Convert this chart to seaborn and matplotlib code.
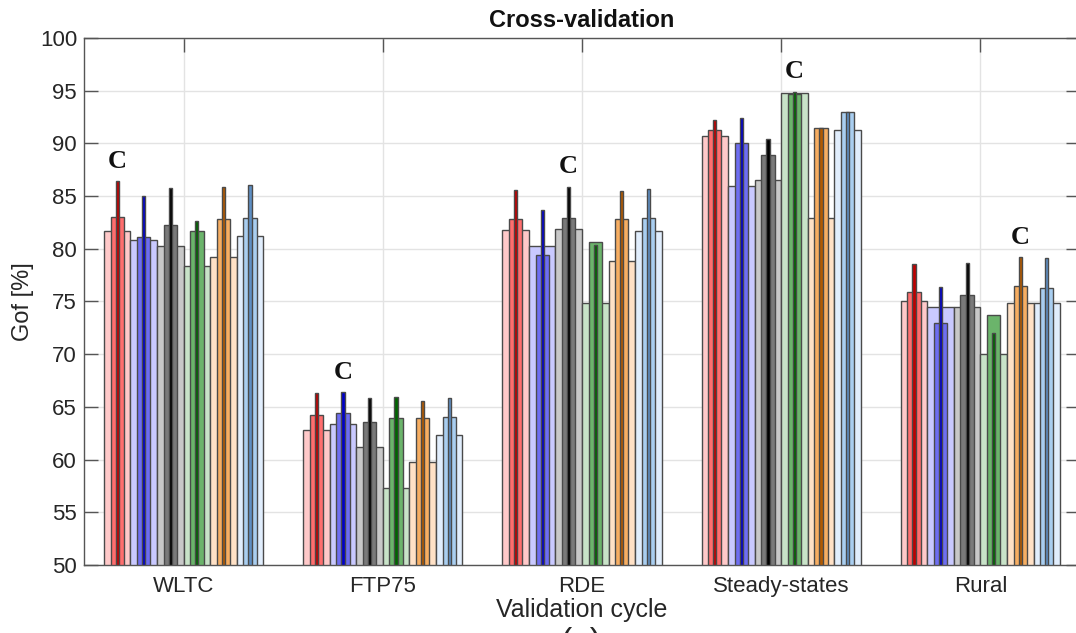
import matplotlib
matplotlib.use("Agg")
import matplotlib.pyplot as plt
import seaborn as sns
import pandas as pd

cycles = ["WLTC", "FTP75", "RDE", "Steady-states", "Rural"]
models = ["Model 1", "Model 2", "Model 3", "Model 4", "Model 5", "Model 6"]

# wide (light) bars
wide_red = [81.7, 62.8, 81.8, 90.7, 75.0]
wide_blue = [80.8, 63.4, 80.3, 86.0, 74.5]
wide_gray = [80.3, 61.2, 81.9, 86.5, 74.5]
wide_green = [78.4, 57.3, 74.9, 94.8, 70.0]
wide_orange = [79.2, 59.8, 78.8, 82.9, 74.9]
wide_lblue = [81.2, 62.3, 81.7, 91.3, 74.9]

# medium bars
mid_red = [83.0, 64.2, 82.8, 91.3, 75.9]
mid_blue = [81.1, 64.4, 79.4, 90.0, 73.0]
mid_gray = [82.3, 63.6, 82.9, 88.9, 75.6]
mid_green = [81.7, 63.9, 80.6, 94.7, 73.7]
mid_orange = [82.8, 63.9, 82.8, 91.5, 76.5]
mid_lblue = [82.9, 64.0, 82.9, 93.0, 76.3]

# thin bars
thin_red = [86.4, 66.3, 85.6, 92.2, 78.6]
thin_blue = [85.0, 66.4, 83.7, 92.4, 76.4]
thin_gray = [85.8, 65.8, 85.9, 90.4, 78.7]
thin_green = [82.6, 65.9, 80.4, 94.9, 72.0]
thin_orange = [85.9, 65.6, 85.5, 91.5, 79.2]
thin_lblue = [86.1, 65.8, 85.7, 93.0, 79.1]

# best model index per cycle (marked with "C")
best_model = [0, 1, 2, 3, 4]

wide = [wide_red, wide_blue, wide_gray, wide_green, wide_orange, wide_lblue]
mid = [mid_red, mid_blue, mid_gray, mid_green, mid_orange, mid_lblue]
thin = [thin_red, thin_blue, thin_gray, thin_green, thin_orange, thin_lblue]

rows = []
for m, name in enumerate(models):
    for c, cyc in enumerate(cycles):
        rows.append({"cycle": cyc, "model": name,
                     "wide": wide[m][c], "mid": mid[m][c], "thin": thin[m][c]})
df = pd.DataFrame(rows)

pal_wide = ["#FFC9C9", "#C9C9FF", "#C8C8C8", "#C8E3C8", "#FFE1C6", "#E1EEFD"]
pal_mid = ["#FF6E6E", "#6E6EF2", "#7A7A7A", "#6BB46B", "#F7AE62", "#A9CEF0"]
pal_thin = ["#C00000", "#0000C8", "#000000", "#006400", "#B35A00", "#5E8FC4"]

sns.set_theme(style="white")
plt.rcParams["font.family"] = ["Liberation Sans", "DejaVu Sans"]

fig = plt.figure(figsize=(10.76, 6.33), dpi=100)
ax = fig.add_axes([84 / 1076, (633 - 565) / 633, 996 / 1076, 527 / 633])

common = dict(data=df, x="cycle", hue="model", order=cycles, hue_order=models,
              width=0.8, legend=False, ax=ax, errorbar=None,
              edgecolor="#4a4a4a", linewidth=1.0, saturation=1.0)
sns.barplot(y="wide", palette=pal_wide, gap=0.0, **common)
sns.barplot(y="mid", palette=pal_mid, gap=0.5, **common)
sns.barplot(y="thin", palette=pal_thin, gap=0.88, **common)

# "C" markers above the best model's thin bar
thin_containers = ax.containers[12:18]
for c, m in enumerate(best_model):
    p = thin_containers[m][c]
    xc = p.get_x() + p.get_width() / 2
    ax.text(xc, thin[m][c] + 1.9, "C", ha="center", va="center",
            fontsize=19, family="Liberation Serif", fontweight="bold",
            color="#111111")

ax.set_ylim(50, 100)
ax.set_xlim(-0.5, 4.5)
ax.set_yticks(range(50, 101, 5))
ax.set_axisbelow(True)
ax.grid(True, color="#e3e3e3", linewidth=1.0)
for s in ["left", "right", "top", "bottom"]:
    ax.spines[s].set_visible(True)
    ax.spines[s].set_color("#555555")
    ax.spines[s].set_linewidth(1.0)
ax.tick_params(axis="both", direction="in", length=10, width=1.0,
               top=True, right=True, bottom=True, left=True,
               color="#555555", labelsize=16, labelcolor="#262626")
ax.tick_params(axis="x", pad=8)
ax.tick_params(axis="y", pad=5)

ax.set_xlabel("Validation cycle", fontsize=18, color="#262626", labelpad=1)
ax.set_ylabel("Gof [%]", fontsize=17, color="#262626", labelpad=4)
ax.set_title("Cross-validation", fontsize=17, fontweight="bold", color="#111111", pad=8)

fig.text(0.54, 6 / 633, "(a)", ha="center", va="top", fontsize=24, color="#262626")

fig.savefig("out.png", dpi=100)
